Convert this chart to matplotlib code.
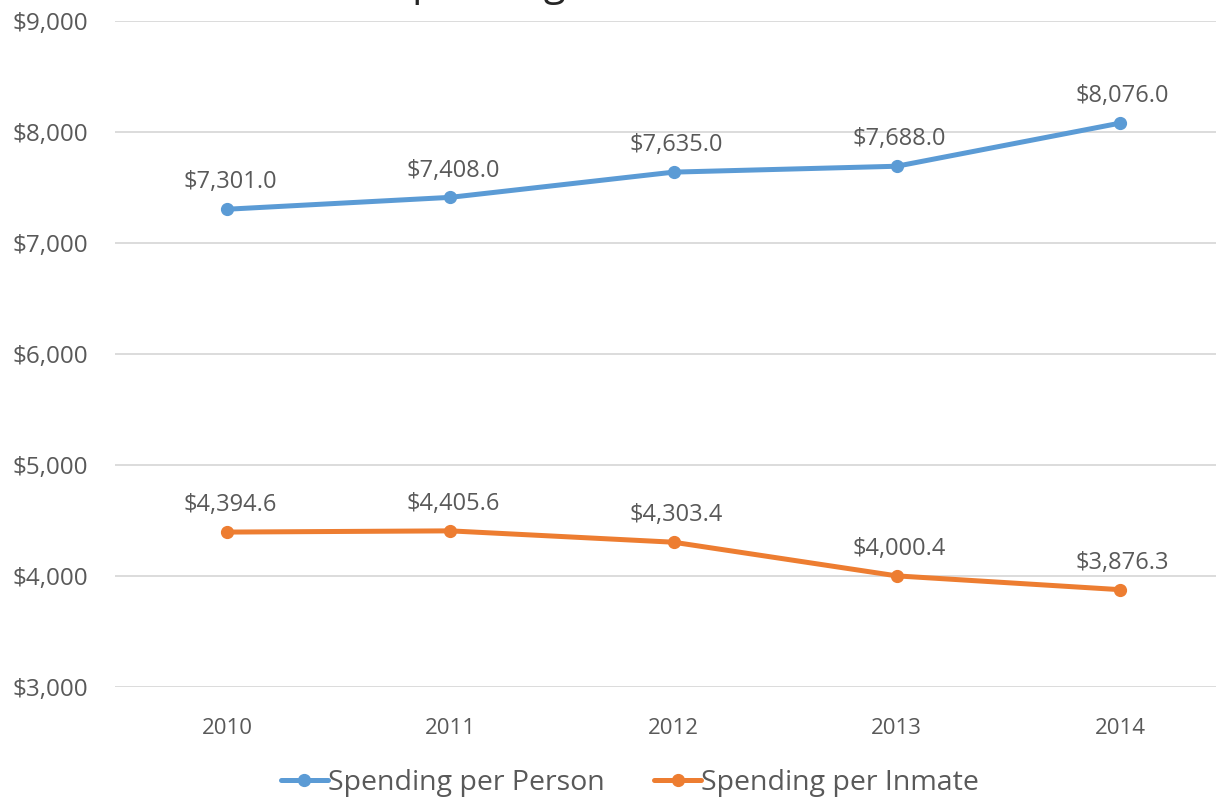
import numpy as np
import matplotlib
matplotlib.use("Agg")
import matplotlib.pyplot as plt

plt.rcParams["font.family"] = ["Open Sans", "DejaVu Sans"]

# 数据
years = ["2010", "2011", "2012", "2013", "2014"]
per_person = [7301.0, 7408.0, 7635.0, 7688.0, 8076.0]
per_inmate = [4394.6, 4405.6, 4303.4, 4000.4, 3876.3]
yticks = [3000, 4000, 5000, 6000, 7000, 8000, 9000]

blue = "#5B9BD5"
orange = "#ED7D31"
grey = "#595959"

fig = plt.figure(figsize=(12.16, 8), dpi=100, facecolor="w")
ax = fig.add_axes([115.5/1216, 1-687/800, (1231.5-115.5)/1216, (687-20.5)/800])

x = np.arange(len(years))
ax.plot(x, per_person, color=blue, lw=3.6, marker="o", ms=8.5, label="Spending per Person",
        solid_capstyle="round", zorder=3)
ax.plot(x, per_inmate, color=orange, lw=3.6, marker="o", ms=8.5, label="Spending per Inmate",
        solid_capstyle="round", zorder=3)

for xi, v in zip(x, per_person):
    ax.annotate("${:,.1f}".format(v), (xi, v), xytext=(2, 15), textcoords="offset points",
                ha="center", va="baseline", fontsize=17, color=grey)
for xi, v in zip(x, per_inmate):
    ax.annotate("${:,.1f}".format(v), (xi, v), xytext=(2, 15), textcoords="offset points",
                ha="center", va="baseline", fontsize=17, color=grey)

ax.set_xlim(-0.5, 4.5)
ax.set_ylim(3000, 9000)
ax.set_xticks(x)
ax.set_xticklabels(years)
ax.set_yticks(yticks)
ax.set_yticklabels(["${:,.0f}".format(t) for t in yticks])
ax.tick_params(axis="x", length=0, labelsize=16, colors=grey, pad=22)
ax.tick_params(axis="y", length=0, labelsize=17.5, colors=grey, pad=19.5)
for s in ax.spines.values():
    s.set_visible(False)
ax.grid(axis="y", color="#D9D9D9", lw=1.3)
ax.set_axisbelow(True)

# 标题（原图顶部被裁掉，只露出下伸部分）
fig.text(391/1216, 1+4.6/800, "Spending", fontsize=29, color="#262626",
         ha="left", va="baseline")

fig.legend(loc="center", bbox_to_anchor=(630/1216, 1-783/800), ncol=2, frameon=False,
           fontsize=20.5, labelcolor=grey, handlelength=1.65, handletextpad=0.0,
           columnspacing=1.75, borderaxespad=0, borderpad=0)

plt.savefig("out.png", dpi=100, facecolor="w")
